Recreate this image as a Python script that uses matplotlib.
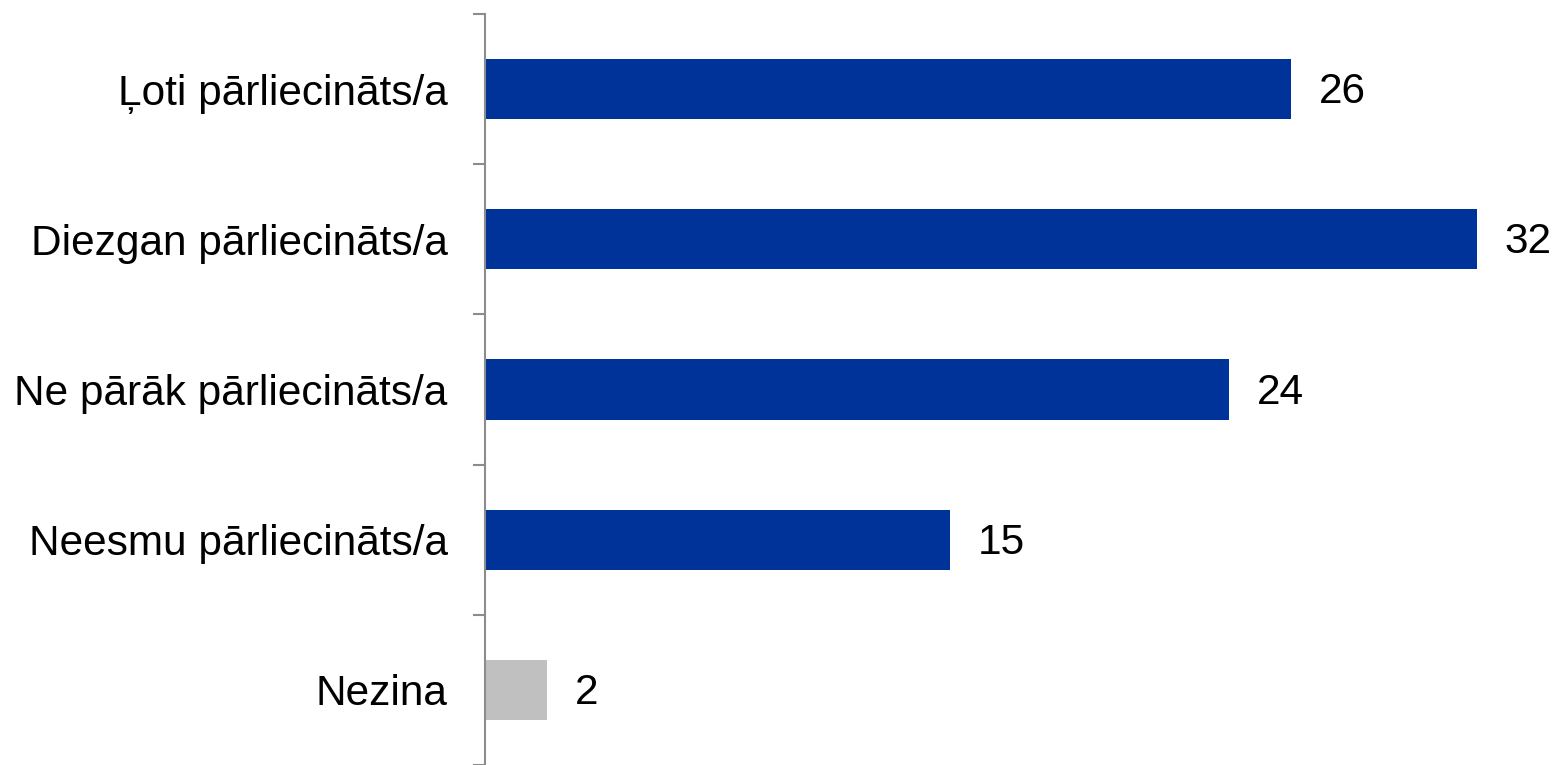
import matplotlib.pyplot as plt
import numpy as np

categories = ['Ļoti pārliecināts/a', 'Diezgan pārliecināts/a', 'Ne pārāk pārliecināts/a',
              'Neesmu pārliecināts/a', 'Nezina']
values = [26, 32, 24, 15, 2]
colors = ['#003399', '#003399', '#003399', '#003399', '#c0c0c0']

plt.rcParams['font.family'] = ['Liberation Sans', 'DejaVu Sans']

fig = plt.figure(figsize=(15.53, 7.65), dpi=100)
ax = fig.add_axes([485 / 1553, 0, 1 - 485 / 1553, (765 - 14) / 765])

y = np.arange(len(categories))
ax.barh(y, values, height=0.4, color=colors)
ax.set_ylim(len(categories) - 0.5, -0.5)
ax.set_xlim(0, 1068 / 31)

for yi, v in zip(y, values):
    ax.text(v + 0.9, yi + 0.02, str(v), va='center', ha='left', fontsize=30.5)

ax.set_yticks(y)
ax.set_yticklabels(categories, fontsize=30.5)
ax.tick_params(axis='y', which='major', length=0, pad=27)
ax.set_yticks(np.arange(-0.5, len(categories), 1.0), minor=True)
ax.tick_params(axis='y', which='minor', length=9, width=1.5, color='#8c8c8c')
ax.set_xticks([])

for s in ['top', 'right', 'bottom']:
    ax.spines[s].set_visible(False)
ax.spines['left'].set_color('#8c8c8c')
ax.spines['left'].set_linewidth(1.5)

fig.savefig('out.png', dpi=100)
